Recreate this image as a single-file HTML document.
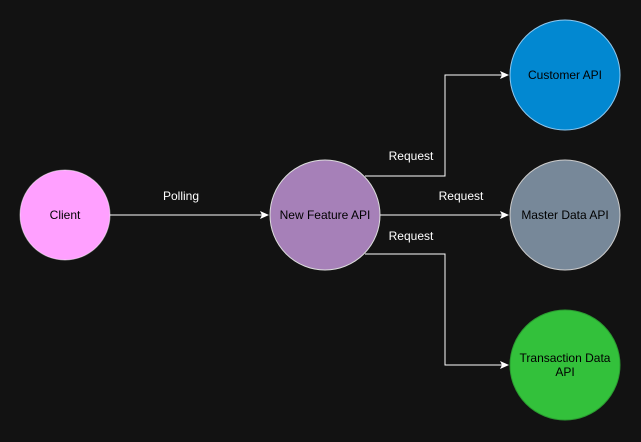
<!DOCTYPE html>
<html><head><style>
html,body{margin:0;padding:0;background:#121212;}
svg{display:block;}
text{font-family:"Liberation Sans",sans-serif;font-size:12px;}
</style></head><body>
<svg width="641" height="442" xmlns="http://www.w3.org/2000/svg">
<rect width="641" height="442" fill="#121212"/>
<defs><marker id="a" markerWidth="10" markerHeight="10" refX="8" refY="4" orient="auto" markerUnits="userSpaceOnUse"><path d="M0,0 L9,4 L0,8 L2,4 Z" fill="#fff"/></marker></defs>
<g stroke="#fff" stroke-width="1" fill="none">
<path d="M110,215 H268" marker-end="url(#a)"/>
<path d="M365,176 H445 V75 H508" marker-end="url(#a)"/>
<path d="M380,215 H508" marker-end="url(#a)"/>
<path d="M365,254 H445 V365 H508" marker-end="url(#a)"/>
</g>
<circle cx="65" cy="215" r="45" fill="#FFA0FF" stroke="#fff" stroke-opacity="0.5"/>
<circle cx="325" cy="215" r="55" fill="#A680B8" stroke="#ddd"/>
<circle cx="565" cy="75" r="55" fill="#0288D1" stroke="#90c8ef"/>
<circle cx="565" cy="215" r="55" fill="#778899" stroke="#ccc"/>
<circle cx="565" cy="365" r="55" fill="#33C13B" stroke="#2a9a30"/>
<g fill="#000" text-anchor="middle">
<text x="65" y="219">Client</text>
<text x="325" y="219">New Feature API</text>
<text x="565" y="79">Customer API</text>
<text x="565" y="219">Master Data API</text>
<text x="565" y="362">Transaction Data</text>
<text x="565" y="376">API</text>
</g>
<g fill="#fff" text-anchor="middle">
<text x="181" y="200">Polling</text>
<text x="411" y="160">Request</text>
<text x="461" y="200">Request</text>
<text x="411" y="240">Request</text>
</g>
</svg>
</body></html>
